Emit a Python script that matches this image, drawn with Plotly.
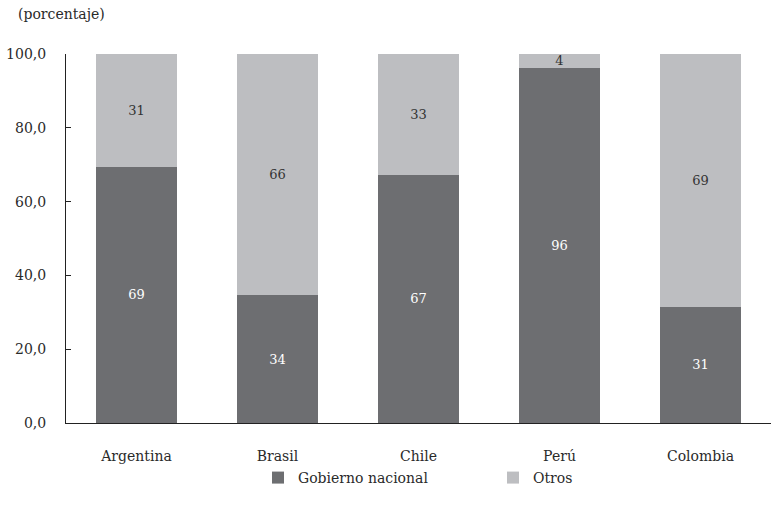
import plotly.graph_objects as go

categories = ["Argentina", "Brasil", "Chile", "Perú", "Colombia"]
gobierno = [69.4, 34.6, 67.3, 96.3, 31.5]
otros = [30.6, 65.4, 32.7, 3.7, 68.5]
gobierno_labels = ["69", "34", "67", "96", "31"]
otros_labels = ["31", "66", "33", "4", "69"]
ytick_vals = [0, 20, 40, 60, 80, 100]
ytick_text = ["0,0", "20,0", "40,0", "60,0", "80,0", "100,0"]

FONT = "'DejaVu Serif', serif"
FS = 14
DARK = "#6d6e71"
LIGHT = "#bdbec1"
TXT = "#2a2a2a"

fig = go.Figure()
fig.add_trace(go.Bar(
    x=categories, y=gobierno, name="Gobierno nacional",
    marker=dict(color=DARK, line=dict(width=0)),
    text=gobierno_labels, textposition="inside", insidetextanchor="middle",
    textangle=0,
    textfont=dict(color="white", size=13, family=FONT), hoverinfo="skip",
))
fig.add_trace(go.Bar(
    x=categories, y=otros, name="Otros",
    marker=dict(color=LIGHT, line=dict(width=0)),
    text=otros_labels, textposition="inside", insidetextanchor="middle",
    textangle=0,
    textfont=dict(color="#333333", size=13, family=FONT), hoverinfo="skip",
))

fig.update_layout(
    width=771, height=515,
    barmode="stack", bargap=0.43,
    margin=dict(l=66, r=0, t=54, b=92),
    paper_bgcolor="white", plot_bgcolor="white",
    font=dict(family=FONT, size=FS, color=TXT),
    uniformtext=dict(mode="show", minsize=13),
    showlegend=True,
    legend=dict(
        orientation="h", x=(258 - 66) / 705, xanchor="left", y=-0.149, yanchor="middle",
        bgcolor="rgba(0,0,0,0)",
        font=dict(size=FS, family=FONT, color=TXT),
        entrywidth=190, entrywidthmode="pixels", traceorder="normal",
        itemwidth=30,
    ),
    annotations=[dict(
        text="(porcentaje)", xref="paper", yref="paper",
        x=-50/705, y=1 + 40/369, xanchor="left", yanchor="middle",
        showarrow=False, font=dict(size=FS, family=FONT, color=TXT),
    )],
)
fig.update_xaxes(
    showline=True, linecolor="#222222", linewidth=1, ticks="",
    showgrid=False, ticklabelstandoff=20,
    tickfont=dict(size=FS, family=FONT, color=TXT),
)
fig.update_yaxes(
    range=[0, 100], tickvals=ytick_vals, ticktext=ytick_text,
    showline=True, linecolor="#222222", linewidth=1,
    ticks="inside", ticklen=5, tickcolor="#222222",
    showgrid=False, zeroline=False, ticklabelstandoff=16,
    tickfont=dict(size=FS, family=FONT, color=TXT),
)

fig.write_html("out.html")
